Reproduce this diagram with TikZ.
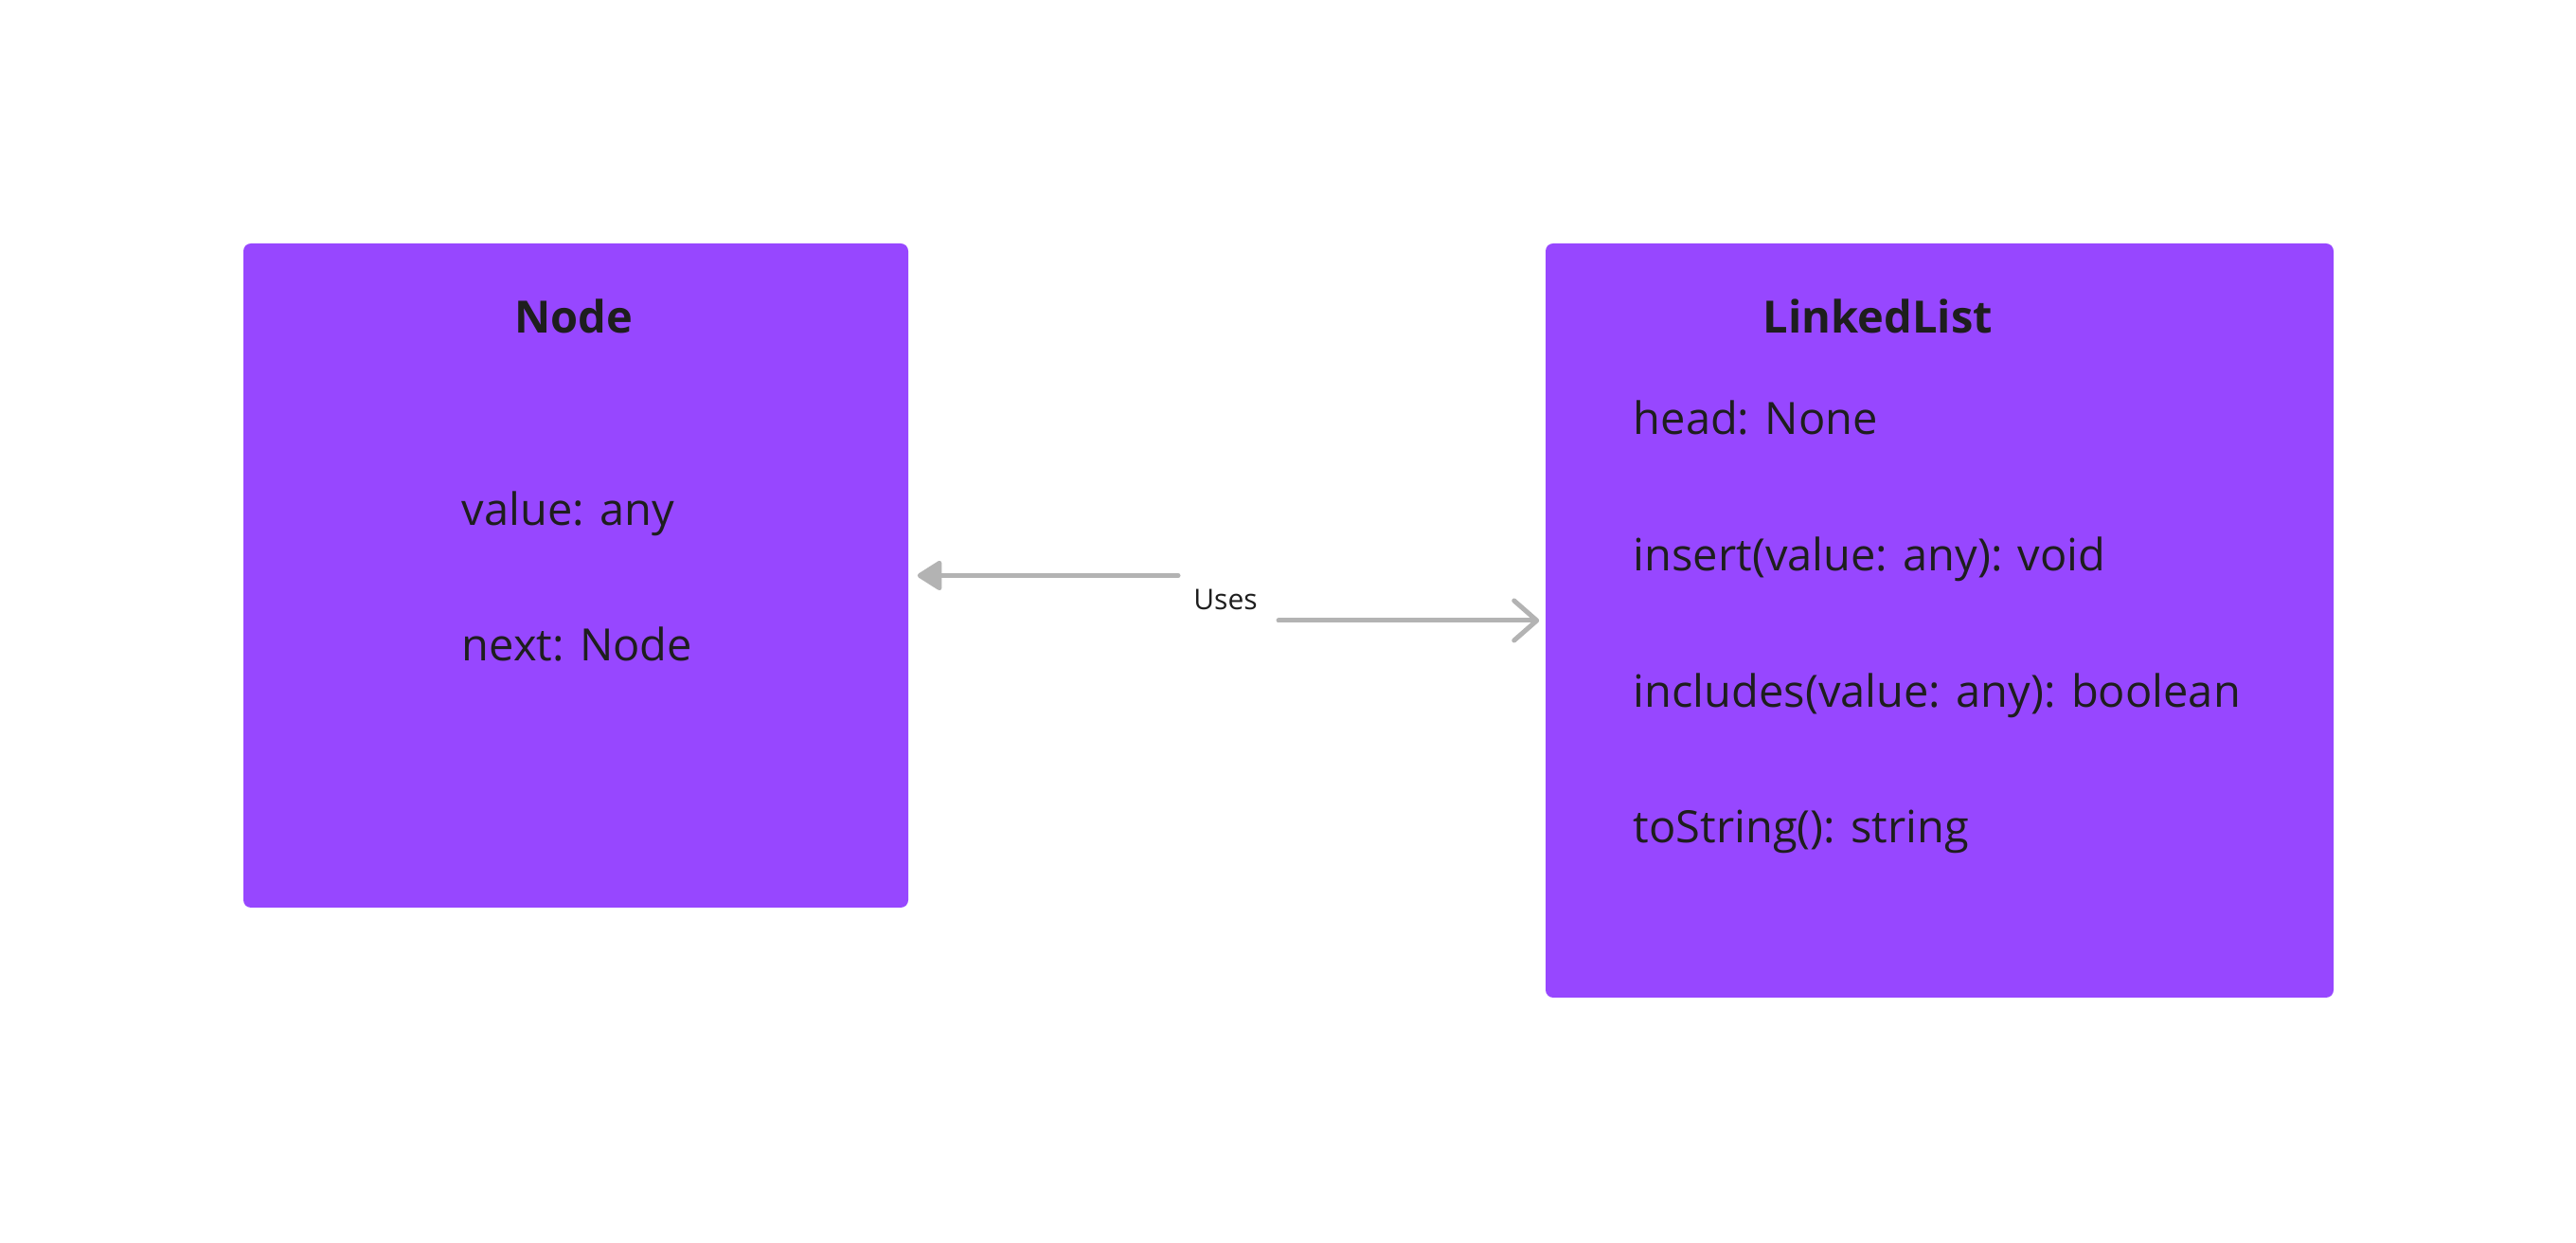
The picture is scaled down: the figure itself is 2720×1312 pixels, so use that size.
\documentclass[tikz,border=0pt]{standalone}
\usepackage{fontspec}
\setmainfont{Open Sans}
\usetikzlibrary{arrows.meta}
\definecolor{boxpurple}{HTML}{9747FF}
\definecolor{txt}{HTML}{1E1E1E}
\definecolor{conn}{HTML}{B3B3B3}
\tikzset{
  classbox/.style={draw=none, fill=boxpurple, rounded corners=2pt, inner sep=0pt},
  title/.style={font=\fontsize{11.75}{14}\selectfont\bfseries, text=txt, inner sep=0pt, anchor=base},
  member/.style={font=\fontsize{11.75}{14}\selectfont, text=txt, inner sep=0pt, anchor=base west},
  lbl/.style={font=\fontsize{7.5}{9}\selectfont, text=txt, inner sep=0pt},
  conline/.style={draw=conn, line width=1.25pt, line cap=round, line join=round}
}
\begin{document}
\begin{tikzpicture}[x=0.25pt,y=-0.25pt]
\useasboundingbox[fill=white] (0,0) rectangle (2720,1312);
% boxes
\node[classbox, minimum width=175.5pt, minimum height=175.25pt] (nodebox) at (608,607.5) {};
\node[classbox, minimum width=208pt, minimum height=199pt] (llbox) at (2048,655) {};
% Node texts
\node[title] (ntitle) at (606,352) {Node};
\node[member] (nval) at (487,555) {value: any};
\node[member] (nnext) at (487,698) {next: Node};
% LinkedList texts
\node[title] (lltitle) at (1983,352) {LinkedList};
\node[member] (llhead) at (1724,459) {head: None};
\node[member] (llins) at (1724,603) {insert(value: any): void};
\node[member] (llinc) at (1724,747) {includes(value: any): boolean};
\node[member] (llstr) at (1724,890) {toString(): string};
% connectors
\coordinate (c1) at (1244,607.5);
\coordinate (c2) at (1350,655);
\draw[conline, -{Triangle[length=7pt,width=8.5pt,round]}, shorten >=2.25pt] (c1) -- (nodebox.east);
\draw[conline, -{Straight Barb[length=6pt,width=10.5pt,round]}, shorten >=1.5pt] (c2) -- (llbox.west);
\node[lbl] (uses) at (1294,633) {Uses};
\end{tikzpicture}
\end{document}
